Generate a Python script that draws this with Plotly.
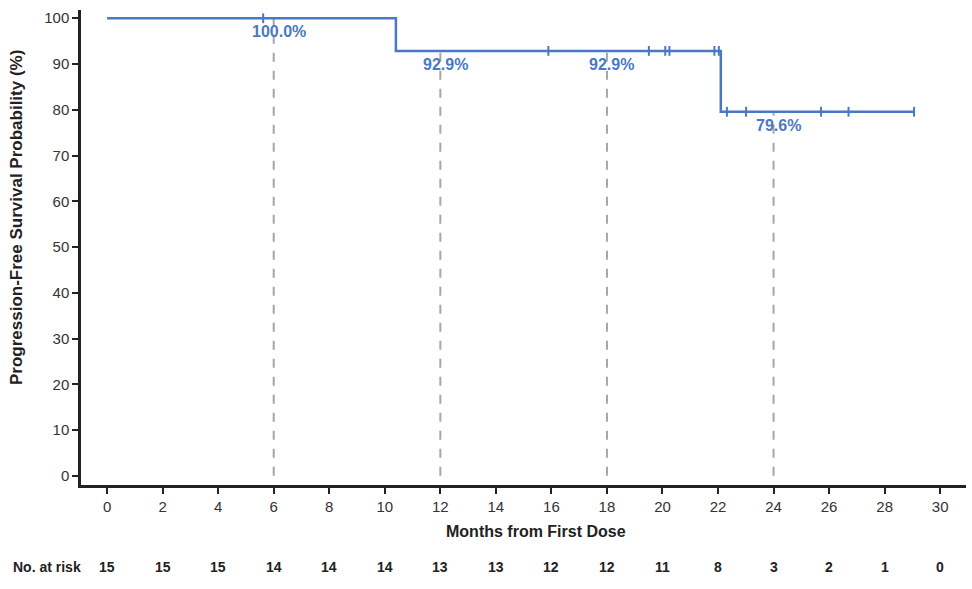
import plotly.graph_objects as go

# Kaplan-Meier step data
step_times = [0, 10.40, 22.10, 29.06]
step_surv = [100.0, 92.86, 79.57, 79.57]
censor_times = [5.62, 15.89, 19.51, 20.10, 20.25, 21.87, 22.03, 22.32, 23.01, 25.71, 26.70, 29.06]

landmark_times = [6, 12, 18, 24]
landmark_surv = [100.0, 92.86, 92.86, 79.57]
landmark_labels = ["100.0%", "92.9%", "92.9%", "79.6%"]

risk_times = [0, 2, 4, 6, 8, 10, 12, 14, 16, 18, 20, 22, 24, 26, 28, 30]
risk_counts = [15, 15, 15, 14, 14, 14, 13, 13, 12, 12, 11, 8, 3, 2, 1, 0]

x_ticks = list(range(0, 31, 2))
y_ticks = list(range(0, 101, 10))

BLUE = "#4A78C4"
GRAY = "#A6A6A6"
FONT = "Liberation Sans, Arial, sans-serif"

L, R, T, B = 81, 6, 10, 104
W, H = 972, 589
PW, PH = W - L - R, H - T - B


def px_x(px):
    return (px - L) / PW


def px_y(py):
    return (H - B - py) / PH


def surv_at(t):
    s = step_surv[0]
    for tt, ss in zip(step_times, step_surv):
        if t >= tt:
            s = ss
    return s


fig = go.Figure()

# dashed landmark lines
for t, s in zip(landmark_times, landmark_surv):
    fig.add_trace(go.Scatter(x=[t, t], y=[0, s], mode="lines",
                             line=dict(color=GRAY, width=2, dash="dash"),
                             hoverinfo="skip", showlegend=False))

fig.add_trace(go.Scatter(x=step_times, y=step_surv, mode="lines",
                         line=dict(color=BLUE, width=2.5, shape="hv"),
                         showlegend=False))

fig.add_trace(go.Scatter(x=censor_times, y=[surv_at(t) for t in censor_times],
                         mode="markers",
                         marker=dict(symbol="line-ns", size=7,
                                     line=dict(color=BLUE, width=2)),
                         showlegend=False))

for t, s, lab in zip(landmark_times, landmark_surv, landmark_labels):
    fig.add_annotation(x=t, y=s, text="<b>%s</b>" % lab, showarrow=False,
                       xanchor="center", yanchor="top", yshift=-3, xshift=5,
                       font=dict(color=BLUE, size=16, family=FONT))

for t, n in zip(risk_times, risk_counts):
    fig.add_annotation(x=t, y=px_y(567), xref="x", yref="paper", text="<b>%d</b>" % n,
                       xanchor="center", yanchor="middle",
                       showarrow=False, font=dict(size=14, color="#222", family=FONT))

fig.add_annotation(x=px_x(11), y=px_y(567), xref="paper", yref="paper", text="<b>No. at risk</b>",
                   showarrow=False, xanchor="left", yanchor="middle",
                   font=dict(size=14, color="#222", family=FONT))

# axis titles
fig.add_annotation(x=px_x(536), y=px_y(531), xref="paper", yref="paper",
                   text="<b>Months from First Dose</b>", xanchor="center", yanchor="middle",
                   showarrow=False, font=dict(size=16, color="#222", family=FONT))
fig.add_annotation(x=px_x(17), y=px_y(218), xref="paper", yref="paper",
                   text="<b>Progression-Free Survival Probability (%)</b>", textangle=-90,
                   xanchor="center", yanchor="middle",
                   showarrow=False, font=dict(size=17, color="#222", family=FONT))

fig.update_layout(
    width=W, height=H,
    margin=dict(l=L, r=R, t=T, b=B, autoexpand=False),
    plot_bgcolor="white", paper_bgcolor="white",
    font=dict(family=FONT, size=15, color="#333"),
    xaxis=dict(range=[-0.94, 30.93], tickvals=x_ticks, ticks="outside", ticklen=6,
               tickwidth=2, tickcolor="#222", showline=True, linecolor="#222", linewidth=2.5,
               showgrid=False, zeroline=False, automargin=False,
               tickfont=dict(size=15, color="#333")),
    yaxis=dict(range=[-2, 101.8], tickvals=y_ticks, ticks="outside", ticklen=6,
               tickwidth=2, tickcolor="#222", showline=True, linecolor="#222", linewidth=2.5,
               showgrid=False, zeroline=False, automargin=False,
               tickfont=dict(size=15, color="#333")),
)

fig.write_html("out.html", config={"displayModeBar": False},
               post_script="document.body.style.margin='0px';")
